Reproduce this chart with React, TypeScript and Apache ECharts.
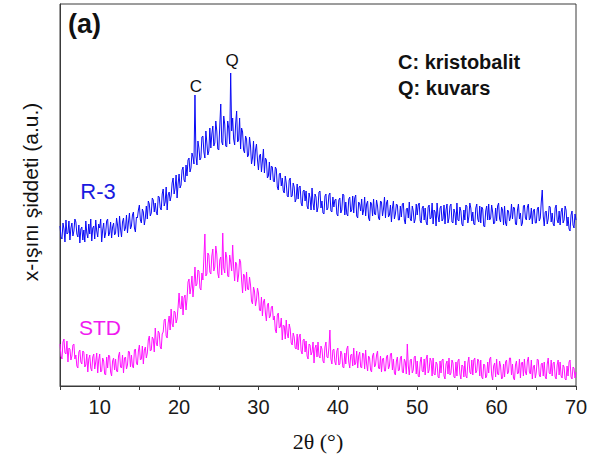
import React, { useEffect, useRef } from "react";
import * as echarts from "echarts";

// 2θ sampling grid: 5° to 70° in 0.125° steps
const START = 5;
const STEP = 0.125;

// R-3 intensity (a.u.), 8 readings per degree
const r3Values = [
  160,149,147,163,157,144,166,152, 153,165,146,158,163,150,155,167,
  164,152,149,161,143,157,159,146, 156,144,165,153,148,162,152,167,
  145,158,160,147,166,155,149,162, 158,167,144,156,163,148,153,165,
  167,150,153,164,148,159,163,151, 153,168,161,149,170,157,149,164,
  168,155,158,171,153,164,173,157, 160,171,174,158,154,169,168,176,
  181,166,163,177,174,161,168,180, 167,185,182,170,173,188,186,174,
  183,174,171,190,189,178,176,192, 197,180,184,199,176,191,194,185,
  190,203,208,192,198,211,188,202, 212,198,201,216,219,206,204,221,
  210,226,228,214,218,233,229,222, 291,230,221,245,238,226,228,249,
  250,234,228,255,243,231,235,258, 238,252,260,240,243,265,255,237,
  236,260,282,244,241,270,262,240, 239,265,258,242,313,255,268,247,
  241,262,275,244,246,268,237,258, 254,236,233,250,247,229,231,249,
  240,222,228,245,220,236,242,226, 216,230,232,214,225,237,213,228,
  226,208,210,224,206,220,219,205, 204,219,217,199,196,212,213,200,
  208,195,193,210,203,190,189,206, 208,189,190,203,199,184,187,202,
  187,199,200,183,180,195,196,185, 195,180,177,193,188,176,198,183,
  176,192,189,174,179,194,195,178, 185,173,172,190,192,176,178,191,
  193,175,174,189,179,186,187,172, 170,186,188,173,176,192,191,171,
  184,172,170,187,189,174,176,190, 173,188,191,170,168,184,182,175,
  187,171,176,189,170,182,185,168, 165,184,182,170,187,172,171,186,
  180,168,166,185,184,170,177,189, 168,183,186,169,171,181,164,178,
  185,167,172,182,181,166,166,180, 169,182,183,166,162,177,178,168,
  184,167,165,180,175,163,167,182, 171,181,183,165,163,178,180,166,
  178,164,161,179,181,167,168,183, 162,176,174,160,183,170,164,178,
  180,165,167,181,162,176,182,163, 168,180,182,164,163,177,173,161,
  183,166,165,179,175,162,160,176, 166,181,180,163,169,183,178,165,
  174,162,161,178,182,167,164,180, 163,179,177,160,159,175,180,166,
  182,166,168,181,174,162,163,178, 165,180,183,167,164,179,176,161,
  180,163,160,176,175,165,169,182, 167,179,178,162,161,176,182,167,
  173,160,163,180,181,168,166,179, 182,166,168,178,162,175,177,163,
  163,177,179,165,168,184,196,170, 160,174,175,162,167,180,179,164,
  173,162,160,178,181,166,163,175, 161,174,178,163,166,180,176,160,
  169,157,155,171,175,161,158,172, 166,
];

// STD intensity (a.u.), 8 readings per degree
const stdValues = [
  42,30,27,44,47,33,32,45, 24,38,37,26,30,41,42,27,
  31,20,18,34,36,24,22,35, 34,19,21,32,14,27,31,18,
  15,29,32,17,24,33,13,26, 32,14,15,28,25,12,11,29,
  18,31,30,14,10,25,28,16, 27,15,14,30,34,19,18,31,
  13,28,29,17,21,35,34,19, 31,20,18,36,37,23,21,35,
  41,26,27,40,22,36,39,28, 33,46,50,35,36,49,47,34,
  58,43,40,55,53,39,37,52, 54,66,67,50,48,63,70,56,
  77,62,59,75,74,63,67,79, 93,78,77,90,71,88,91,76,
  87,104,107,92,99,110,89,101, 119,100,102,116,115,98,96,113,
  106,128,152,110,112,133,131,114, 112,130,137,115,119,140,132,113,
  108,126,129,111,153,118,113,134, 129,110,109,131,124,115,141,119,
  105,124,122,104,111,127,124,106, 93,112,110,95,114,97,96,109,
  101,85,82,99,95,80,86,98, 93,76,75,89,70,84,87,73,
  65,81,83,68,70,79,80,66, 70,56,53,71,73,58,59,68,
  46,61,60,47,66,52,48,62, 57,43,41,53,49,38,37,52,
  36,49,52,35,32,46,47,34, 45,30,27,42,41,31,34,44,
  23,38,41,29,44,30,28,40, 37,25,23,39,44,29,28,38,
  56,27,22,36,37,24,21,35, 38,21,22,35,32,19,18,33,
  22,37,40,24,18,31,32,20, 38,21,23,35,18,30,34,19,
  18,33,32,17,36,22,15,30, 28,16,14,30,33,19,21,31,
  35,18,17,30,14,27,28,15, 15,29,31,17,20,32,33,16,
  27,13,11,25,29,15,16,28, 30,14,13,27,24,12,42,20,
  11,26,27,13,16,29,30,12, 25,10,9,24,29,15,14,27,
  11,27,31,13,16,28,25,10, 28,12,11,24,22,9,8,25,
  13,26,27,10,7,22,25,12, 28,11,13,26,23,9,8,24,
  10,25,27,12,7,21,20,9, 25,10,8,23,29,14,12,26,
  11,26,28,13,15,27,25,10, 26,9,7,22,21,8,10,24,
  13,27,29,11,6,20,23,9, 27,12,11,25,20,7,8,22,
  9,24,26,12,14,28,28,11, 22,8,6,21,25,12,13,27,
  8,23,24,10,27,14,11,25, 29,14,12,26,7,19,21,8,
  14,27,26,11,9,22,23,10, 24,9,7,22,28,13,12,26,
  10,23,24,9,7,21,26,11, 24,10,8,21,19,7,6,20,
  10,24,26,9,7,19,18,8, 14,
];

const xTickLabels = ["10", "20", "30", "40", "50", "60", "70"];

const toPairs = (vals: number[]) => vals.map((v, i) => [START + i * STEP, v]);

export default function App() {
  const ref = useRef<HTMLDivElement>(null);
  useEffect(() => {
    if (!ref.current) return;
    const chart = echarts.init(ref.current, null, { renderer: "svg" });
    const sans = "'Liberation Sans', Arial, sans-serif";
    chart.setOption({
      animation: false,
      backgroundColor: "#ffffff",
      grid: {
        left: 60,
        right: 36,
        top: 4,
        bottom: 72,
        show: true,
        borderColor: "#3a3a3a",
        borderWidth: 1,
        backgroundColor: "transparent",
      },
      xAxis: {
        type: "value",
        min: 5,
        max: 70,
        interval: 5,
        axisLine: { show: true, lineStyle: { color: "#3a3a3a", width: 1 } },
        axisTick: { show: true, inside: false, length: 4, lineStyle: { color: "#3a3a3a" } },
        splitLine: { show: false },
        axisLabel: {
          margin: 11,
          color: "#1a1a1a",
          fontFamily: sans,
          fontSize: 20,
          formatter: (v: number) => {
            const s = String(Math.round(v));
            return xTickLabels.includes(s) ? s : "";
          },
        },
      },
      yAxis: {
        type: "value",
        min: 0,
        max: 382,
        axisLine: { show: true, lineStyle: { color: "#3a3a3a" } },
        axisTick: { show: false },
        axisLabel: { show: false },
        splitLine: { show: false },
      },
      series: [
        {
          name: "R-3",
          type: "line",
          data: toPairs(r3Values),
          showSymbol: false,
          symbol: "none",
          sampling: undefined,
          lineStyle: { color: "#0a0af5", width: 1 },
          z: 3,
        },
        {
          name: "STD",
          type: "line",
          data: toPairs(stdValues),
          showSymbol: false,
          symbol: "none",
          lineStyle: { color: "#ff10ff", width: 1 },
          z: 2,
        },
      ],
      graphic: [
        {
          type: "text",
          left: 68,
          top: 10,
          style: { text: "(a)", fontFamily: sans, fontWeight: "bold", fontSize: 27, fill: "#111" },
        },
        {
          type: "text",
          left: 398,
          top: 52,
          style: { text: "C: kristobalit", fontFamily: sans, fontWeight: "bold", fontSize: 20, fill: "#111" },
        },
        {
          type: "text",
          left: 398,
          top: 78,
          style: { text: "Q: kuvars", fontFamily: sans, fontWeight: "bold", fontSize: 20, fill: "#111" },
        },
        {
          type: "text",
          x: 196,
          y: 86,
          style: { text: "C", fontFamily: sans, fontSize: 17, fill: "#111", align: "center", verticalAlign: "middle" },
        },
        {
          type: "text",
          x: 232,
          y: 60,
          style: { text: "Q", fontFamily: sans, fontSize: 17, fill: "#111", align: "center", verticalAlign: "middle" },
        },
        {
          type: "text",
          x: 98,
          y: 191,
          style: { text: "R-3", fontFamily: sans, fontSize: 22, fill: "#1a1ae0", align: "center", verticalAlign: "middle" },
        },
        {
          type: "text",
          x: 100,
          y: 327,
          style: { text: "STD", fontFamily: sans, fontSize: 21, fill: "#f01af0", align: "center", verticalAlign: "middle" },
        },
        {
          type: "text",
          x: 318,
          y: 441,
          style: {
            text: "2θ (°)",
            fontFamily: "'Liberation Serif', 'Times New Roman', serif",
            fontSize: 22,
            fill: "#111",
            align: "center",
            verticalAlign: "middle",
          },
        },
        {
          type: "text",
          x: 30,
          y: 192,
          rotation: Math.PI / 2,
          style: {
            text: "x-ışını şiddeti (a.u.)",
            fontFamily: sans,
            fontSize: 21,
            fill: "#111",
            align: "center",
            verticalAlign: "middle",
          },
        },
      ],
    });
    return () => chart.dispose();
  }, []);
  return <div ref={ref} style={{ width: 612, height: 458, position: "absolute", left: 0, top: 0 }} />;
}
